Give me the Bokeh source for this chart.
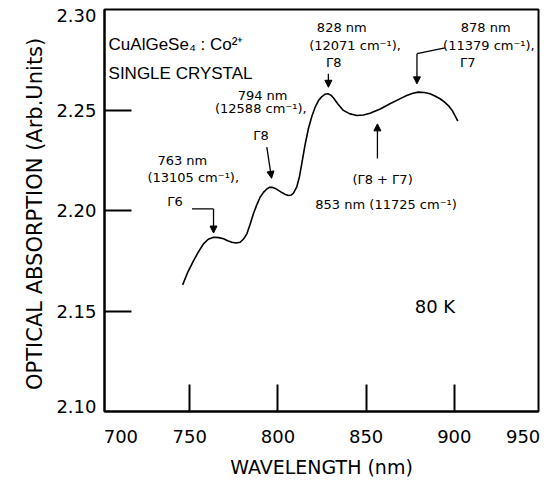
from bokeh.plotting import figure
from bokeh.models import Label, Arrow, NormalHead, FixedTicker
from bokeh.embed import file_html
from bokeh.resources import INLINE

# ---- data ----
wavelength = [746.0, 749.0, 752.2, 755.0, 757.8, 760.5, 763.5, 766.5, 769.2, 771.5,
              773.9, 776.3, 778.6, 780.5, 782.4, 784.2, 786.1, 788.0, 789.9, 791.8,
              793.7, 795.2, 796.6, 798.5, 800.3, 802.5, 804.2, 806.0, 807.5, 808.8,
              810.7, 812.2, 813.5, 815.4, 817.3, 819.2, 821.1, 823.0, 824.9, 826.6,
              828.3, 830.0, 831.4, 834.0, 837.1, 840.5, 844.7, 848.5, 852.2, 858.0,
              863.5, 868.5, 873.0, 876.5, 879.6, 883.0, 886.2, 889.0, 891.9, 894.3,
              896.6, 899.0, 902.0]
absorption = [2.1630, 2.1695, 2.1751, 2.1795, 2.1834, 2.1857, 2.1867, 2.1865, 2.1859, 2.1850,
              2.1842, 2.1838, 2.1842, 2.1858, 2.1884, 2.1930, 2.1984, 2.2028, 2.2066, 2.2090,
              2.2107, 2.2115, 2.2116, 2.2110, 2.2100, 2.2088, 2.2080, 2.2075, 2.2077, 2.2086,
              2.2118, 2.2168, 2.2232, 2.2328, 2.2408, 2.2468, 2.2514, 2.2547, 2.2567, 2.2578,
              2.2581, 2.2574, 2.2561, 2.2530, 2.2498, 2.2482, 2.2473, 2.2475, 2.2484, 2.2505,
              2.2531, 2.2553, 2.2572, 2.2583, 2.2589, 2.2587, 2.2581, 2.2570, 2.2556, 2.2540,
              2.2522, 2.2495, 2.2445]

x_tick_labels = ["700", "750", "800", "850", "900", "950"]
y_tick_labels = ["2.10", "2.15", "2.20", "2.25", "2.30"]
x_mark_ticks = [750, 800, 850, 900]
y_mark_ticks = [2.15, 2.20, 2.25]

FONT = "DejaVu Sans"

p = figure(width=552, height=483, x_range=(701.7, 947.7), y_range=(2.10, 2.30),
           output_backend="svg", toolbar_location=None,
           min_border_left=104, min_border_right=14, min_border_top=9, min_border_bottom=72)
p.background_fill_color = "white"
p.border_fill_color = "white"
p.xgrid.visible = False
p.ygrid.visible = False
p.outline_line_color = "black"
p.outline_line_width = 2

# x axis: labels (700 and 950 sit inside the ends), inward marks at 750..900
x_label_pos = [711, 750, 800, 850, 900, 939]
p.xaxis.ticker = FixedTicker(ticks=x_label_pos, minor_ticks=x_mark_ticks)
p.xaxis.major_label_overrides = {k: v for k, v in zip(x_label_pos, x_tick_labels)}
y_label_pos = [2.1025, 2.15, 2.20, 2.25, 2.297]
p.yaxis.ticker = FixedTicker(ticks=y_label_pos, minor_ticks=y_mark_ticks)
p.yaxis.major_label_overrides = {k: v for k, v in zip(y_label_pos, y_tick_labels)}

for ax in (p.xaxis[0], p.yaxis[0]):
    ax.axis_line_color = "black"
    ax.axis_line_width = 2
    ax.major_tick_line_color = None
    ax.minor_tick_line_color = "black"
    ax.minor_tick_line_width = 2
    ax.minor_tick_in = 27
    ax.minor_tick_out = 0
    ax.major_tick_in = 0
    ax.major_tick_out = 0
    ax.major_label_text_font = FONT
    ax.major_label_text_font_size = "18px"
    ax.major_label_text_color = "black"
    ax.axis_label_text_font = FONT
    ax.axis_label_text_font_style = "normal"
    ax.axis_label_text_color = "black"

p.xaxis.major_label_standoff = 18
p.yaxis.major_label_standoff = 8
p.xaxis.axis_label = "WAVELENGTH (nm)"
p.xaxis.axis_label_text_font_size = "19px"
p.xaxis.axis_label_standoff = 10
p.yaxis.axis_label = "OPTICAL  ABSORPTION (Arb.Units)"
p.yaxis.axis_label_text_font_size = "21px"
p.yaxis.axis_label_standoff = 6

p.line(wavelength, absorption, line_color="black", line_width=1.6)

# ---- text annotations ----
texts = [
    ("CuAlGeSe₄ : Co²⁺", 704.0, 2.2825, "left", "17px", "Liberation Sans"),
    ("SINGLE CRYSTAL", 704.0, 2.2680, "left", "17px", "Liberation Sans"),
    ("828 nm", 836.2, 2.2909, "center", "13px", FONT),
    ("(12071 cm⁻¹),", 843.7, 2.2821, "center", "13px", FONT),
    ("Γ8", 827.2, 2.2738, "left", "13px", FONT),
    ("878 nm", 917.8, 2.2909, "center", "13px", FONT),
    ("(11379 cm⁻¹),", 919.6, 2.2821, "center", "13px", FONT),
    ("Γ7", 903.2, 2.2738, "left", "13px", FONT),
    ("794 nm", 791.3, 2.2572, "center", "13px", FONT),
    ("(12588 cm⁻¹),", 790.3, 2.2506, "center", "13px", FONT),
    ("Γ8", 786.0, 2.2373, "left", "13px", FONT),
    ("763 nm", 745.8, 2.2249, "center", "13px", FONT),
    ("(13105 cm⁻¹),", 752.0, 2.2166, "center", "13px", FONT),
    ("Γ6", 737.3, 2.2045, "left", "13px", FONT),
    ("(Γ8 + Γ7)", 859.3, 2.2155, "center", "13px", FONT),
    ("853 nm (11725 cm⁻¹)", 861.3, 2.2028, "center", "13px", FONT),
    ("80 K", 889.0, 2.1522, "center", "18px", FONT),
]
for t, x, y, align, size, font in texts:
    p.add_layout(Label(x=x, y=y, text=t, text_align=align, text_baseline="middle",
                       text_font=font, text_font_size=size, text_color="black"))

def head():
    return NormalHead(size=7, fill_color="black", line_color="black", line_width=1)

arrows = [
    (828.6, 2.2680, 828.6, 2.2613, True),
    (894.7, 2.2809, 878.8, 2.2780, False),
    (878.8, 2.2780, 878.8, 2.2630, True),
    (793.7, 2.2315, 796.4, 2.2160, True),
    (751.3, 2.2008, 763.5, 2.2008, False),
    (763.5, 2.2008, 763.5, 2.1888, True),
    (856.4, 2.2259, 856.4, 2.2431, True),
]
for xs, ys, xe, ye, has_head in arrows:
    p.add_layout(Arrow(x_start=xs, y_start=ys, x_end=xe, y_end=ye,
                       end=head() if has_head else None,
                       line_color="black", line_width=1.3))

open("out.html", "w").write(file_html(p, INLINE))
